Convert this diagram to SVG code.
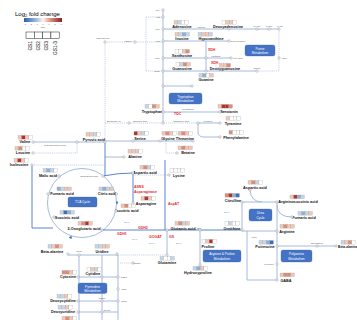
<svg xmlns="http://www.w3.org/2000/svg" xmlns:xlink="http://www.w3.org/1999/xlink" width="357" height="320" viewBox="0 0 357 320">
<style>
text{font-family:"Liberation Sans",Arial,sans-serif}
.n{font-size:3.8px;font-weight:bold;text-anchor:middle;fill:#111}
.s{font-size:2.4px;text-anchor:middle;fill:#555}
.e{font-size:3.5px;font-weight:bold;fill:#e3261f}
.nh{font-size:2.4px;fill:#4a78c8}
.bt{font-size:3.2px;text-anchor:middle;fill:#fff}
.ln{stroke:#a3bbe0;stroke-width:1;fill:none}
.bl{stroke:#5b84cf;stroke-width:1;fill:none}
.dl{stroke:#9fb3d6;stroke-width:0.6;stroke-dasharray:1.2 0.9;fill:none}
.nc{fill:#fff;stroke:#777;stroke-width:0.4}
.box{fill:#4472c4;stroke:#3a62ad;stroke-width:0.3}
.w{fill:#ffffff}.lb{fill:#c4d5ea}.mb{fill:#8eafd6}.db{fill:#3d6fb0}.lr{fill:#f2c6b6}.mr{fill:#dd8c75}.dr{fill:#b3302c}
</style>
<defs>
<rect id="c" width="3.6" height="3.6" stroke="#999" stroke-width="0.25"/>
<linearGradient id="grad" x1="0" x2="1" y1="0" y2="0">
<stop offset="0" stop-color="#2c5fa8"/><stop offset="0.35" stop-color="#a9c4e2"/><stop offset="0.5" stop-color="#f7f7f7"/><stop offset="0.65" stop-color="#e9a58d"/><stop offset="1" stop-color="#8e1b28"/>
</linearGradient>
<marker id="ar" viewBox="0 0 6 6" refX="3" refY="3" markerWidth="3" markerHeight="3" orient="auto"><path d="M0,0L6,3L0,6z" fill="#3d6fc2"/></marker>
</defs>

<g id="legend">
<text x="15" y="16" font-size="6">Log<tspan font-size="4" dy="1.3">2</tspan><tspan dy="-1.3"> fold change</tspan></text>
<rect x="24" y="18" width="38" height="4" fill="url(#grad)"/>
<g font-size="1.8" text-anchor="middle" fill="#333"><text x="25" y="25">-3</text><text x="31" y="25">-2</text><text x="37" y="25">-1</text><text x="43" y="25">0</text><text x="49" y="25">1</text><text x="55" y="25">2</text><text x="61" y="25">3</text><text x="43" y="28">Value</text></g>
<g fill="#fff" stroke="#222" stroke-width="0.5"><rect x="26" y="32" width="8.3" height="6.5"/><rect x="34.3" y="32" width="8.3" height="6.5"/><rect x="42.6" y="32" width="8.3" height="6.5"/><rect x="50.9" y="32" width="8.3" height="6.5"/></g>
<g font-size="4.8" text-anchor="end"><text transform="translate(31.8,41) rotate(-90)">GS1</text><text transform="translate(40.1,41) rotate(-90)">GS2</text><text transform="translate(48.4,41) rotate(-90)">GS3</text><text transform="translate(56.7,41) rotate(-90)">GS1-3</text></g>
</g>

<g id="connectors">
<path class="ln" d="M163,10V123M163,29H279M163,41H229M163,58H231M163,71H257M206,41V72"/>
<path class="dl" d="M146,17V71M146,17H163M146,71H163M105,42H163M279,29V71M257,71H279"/>
<path class="dl" d="M105,42V142"/>
<path class="ln" d="M163,86H192M163,112H220M198,123H220M198,123V132Q198,137 204,137H220"/>
<path class="dl" d="M105,123H198"/>
<path class="ln" d="M105,141H193M105,157H124"/>
<path class="dl" d="M166,141V153H177"/>
<path class="ln" d="M33,142H105"/>
<path class="dl" d="M33,153H77V142M32,165H105"/>
<path class="bl" d="M105,142V176M32,165V228H53"/>
<circle cx="82" cy="203" r="34.5" class="ln"/>
<path d="M117,201v2" class="bl" marker-end="url(#ar)"/>
<path d="M72,237.4h-2" class="bl" marker-end="url(#ar)"/>
<path class="bl" d="M103,176Q118,173 133,173M133,173V203"/>
<path class="dl" d="M133,175H169"/>
<path class="bl" d="M165,160V230M102,230H242"/>
<path class="ln" d="M167,230V255M200,230V265"/>
<path class="dl" d="M118,255H167M120,263H133"/>
<path class="ln" d="M242,202H277V231H242V202M250,190Q251,202 262,202M277,205Q277,217 292,217"/>
<path class="ln" d="M247,231V280H277M277,231V280M277,246H336"/>
<path class="ln" d="M68,255H118M79,255V320M102,255V320M118,255V320M78,277H118M78,301H118M78,312H118"/>
</g>

<g id="purine-cofactors">
<text class="s" x="157" y="11">ATP</text><circle class="nc" cx="163" cy="10" r="1.2"/>
<text class="s" x="158" y="18">ADP</text><circle class="nc" cx="163" cy="17" r="1.2"/>
<text class="s" x="157" y="30">AMP</text><circle class="nc" cx="163" cy="29" r="1.2"/>
<text class="s" x="158" y="42">IMP</text><circle class="nc" cx="163" cy="41" r="1.2"/>
<text class="s" x="157" y="59">XMP</text><circle class="nc" cx="163" cy="58" r="1.2"/>
<text class="s" x="157" y="72">GMP</text><circle class="nc" cx="163" cy="71" r="1.2"/>
<text class="s" x="128" y="42">PRPP</text><circle class="nc" cx="135" cy="42" r="1.2"/>
<text class="s" x="103" y="39">Ribulose-5P</text><circle class="nc" cx="105" cy="42" r="1.2"/>
</g>
<g id="adenosine"><g transform="translate(174,20.5)"><use href="#c" class="lr"/><use href="#c" x="3.6" class="lb"/><use href="#c" x="7.2" class="w"/><use href="#c" x="10.8" class="w"/></g><text class="n" x="182" y="27.6">Adenosine</text></g>
<text class="s" x="201" y="27.6">Adenine</text>
<g id="deoxyadenosine"><g transform="translate(222,20.5)"><use href="#c" class="w"/><use href="#c" x="3.6" class="lr"/><use href="#c" x="7.2" class="lr"/><use href="#c" x="10.8" class="w"/></g><text class="n" x="228" y="27.6">Deoxyadenosine</text><circle class="nc" cx="229" cy="29" r="1.2"/></g>
<g id="dnucs"><text class="s" x="257" y="27">dAMP</text><circle class="nc" cx="257" cy="29" r="1.2"/><text class="s" x="269" y="27">dADP</text><circle class="nc" cx="269" cy="29" r="1.2"/><text class="s" x="280" y="27">dATP</text><circle class="nc" cx="279" cy="29" r="1.2"/>
<circle class="nc" cx="279" cy="58" r="1.2"/><text class="s" x="285" y="59">DNA</text>
<text class="s" x="257" y="69">dGMP</text><circle class="nc" cx="257" cy="71" r="1.2"/></g>
<g id="inosine"><g transform="translate(175,32.5)"><use href="#c" class="lr"/><use href="#c" x="3.6" class="lb"/><use href="#c" x="7.2" class="mb"/><use href="#c" x="10.8" class="lb"/></g><text class="n" x="182" y="39.6">Inosine</text></g>
<g id="hypoxanthine"><g transform="translate(198,32.5)"><use href="#c" class="lb"/><use href="#c" x="3.6" class="lr"/><use href="#c" x="7.2" class="lr"/><use href="#c" x="10.8" class="lb"/></g><text class="n" x="211" y="39.6">Hypoxanthine</text></g>
<g id="deoxyinosine"><circle class="nc" cx="229" cy="41" r="1.2"/><text class="s" x="238" y="42">Deoxyinosine</text></g>
<text class="e" x="208" y="51">XDH</text>
<g id="xanthosine"><g transform="translate(175,49.5)"><use href="#c" class="w"/><use href="#c" x="3.6" class="w"/><use href="#c" x="7.2" class="lr"/><use href="#c" x="10.8" class="mr"/></g><text class="n" x="182" y="56.6">Xanthosine</text></g>
<circle class="nc" cx="206" cy="58" r="1.2"/><text class="s" x="216" y="57">Xanthine</text>
<circle class="nc" cx="231" cy="58" r="1.2"/><text class="s" x="238" y="59">Uric acid</text>
<text class="e" x="211" y="64">XDH</text>
<g id="guanosine"><g transform="translate(176,62.5)"><use href="#c" class="w"/><use href="#c" x="3.6" class="lb"/><use href="#c" x="7.2" class="mr"/><use href="#c" x="10.8" class="lr"/></g><text class="n" x="182" y="69.6">Guanosine</text></g>
<circle class="nc" cx="206" cy="71" r="1.2"/>
<g id="deoxyguanosine"><g transform="translate(216,63.5)"><use href="#c" class="w"/><use href="#c" x="3.6" class="lr"/><use href="#c" x="7.2" class="lr"/><use href="#c" x="10.8" class="mr"/></g><text class="n" x="225" y="70">Deoxyguanosine</text></g>
<g id="guanine"><g transform="translate(199,73.5)"><use href="#c" class="lb"/><use href="#c" x="3.6" class="mb"/><use href="#c" x="7.2" class="w"/><use href="#c" x="10.8" class="lr"/></g><text class="n" x="206" y="80.6">Guanine</text></g>
<g id="purine-box"><rect class="box" x="245" y="45" width="30" height="11" rx="2"/><text class="bt" x="260" y="49.8">Purine</text><text class="bt" x="260" y="54">Metabolism</text></g>

<circle class="nc" cx="163" cy="86" r="1.2"/><circle class="nc" cx="192" cy="86" r="1.2"/>
<g id="trp-box"><rect class="box" x="169" y="93" width="33" height="11" rx="2"/><text class="bt" x="185.5" y="97.8">Tryptophan</text><text class="bt" x="185.5" y="102">Metabolism</text></g>
<g id="tryptophan"><g transform="translate(145,104.5)"><use href="#c" class="lb"/><use href="#c" x="3.6" class="w"/><use href="#c" x="7.2" class="mr"/><use href="#c" x="10.8" class="lr"/></g><text class="n" x="152" y="113">Tryptophan</text><circle class="nc" cx="163" cy="112" r="1.2"/></g>
<text class="e" x="174" y="115">TDC</text>
<text class="s" x="188" y="110">Tryptamine</text>
<g id="serotonin"><g transform="translate(218,104.5)"><use href="#c" class="lr"/><use href="#c" x="3.6" class="dr"/><use href="#c" x="7.2" class="dr"/><use href="#c" x="10.8" class="mr"/></g><text class="n" x="229" y="113">Serotonin</text><circle class="nc" cx="220" cy="112" r="1.2"/></g>
<text class="s" x="114" y="122">Erythrose-4P</text><circle class="nc" cx="129" cy="123" r="1.2"/>
<text class="s" x="140" y="122">Shikimic acid</text><circle class="nc" cx="163" cy="123" r="1.2"/>
<text class="s" x="181" y="122">Chorismic acid</text><circle class="nc" cx="198" cy="123" r="1.2"/>
<text class="s" x="208" y="122">Tyrosine</text>
<g id="tyramine"><g transform="translate(226,116.5)"><use href="#c" class="lr"/><use href="#c" x="3.6" class="w"/><use href="#c" x="7.2" class="w"/><use href="#c" x="10.8" class="w"/></g><text class="n" x="233" y="125">Tyramine</text><circle class="nc" cx="220" cy="123" r="1.2"/></g>
<g id="phenylalanine"><g transform="translate(229,130.5)"><use href="#c" class="mr"/><use href="#c" x="3.6" class="w"/><use href="#c" x="7.2" class="w"/><use href="#c" x="10.8" class="w"/></g><text class="n" x="236" y="139">Phenylalanine</text><circle class="nc" cx="220" cy="137" r="1.2"/></g>

<g id="serine"><g transform="translate(134,131.5)"><use href="#c" class="dr"/><use href="#c" x="3.6" class="lr"/><use href="#c" x="7.2" class="lb"/><use href="#c" x="10.8" class="w"/></g><text class="n" x="140" y="139.5">Serine</text><circle class="nc" cx="133" cy="141" r="1.2"/></g>
<g id="glycine"><g transform="translate(162,131.5)"><use href="#c" class="lr"/><use href="#c" x="3.6" class="mr"/><use href="#c" x="7.2" class="lr"/><use href="#c" x="10.8" class="w"/></g><text class="n" x="168" y="139.5">Glycine</text><circle class="nc" cx="160" cy="141" r="1.2"/></g>
<g id="threonine"><g transform="translate(178,131.5)"><use href="#c" class="lr"/><use href="#c" x="3.6" class="mr"/><use href="#c" x="7.2" class="lr"/><use href="#c" x="10.8" class="w"/></g><text class="n" x="185" y="139.5">Threonine</text><circle class="nc" cx="193" cy="141" r="1.2"/></g>
<g id="betaine"><g transform="translate(178,146)"><use href="#c" class="lr"/><use href="#c" x="3.6" class="mr"/><use href="#c" x="7.2" class="lr"/><use href="#c" x="10.8" class="lr"/></g><text class="n" x="188" y="154">Betaine</text><circle class="nc" cx="177" cy="153" r="1.2"/></g>
<g id="alanine"><g transform="translate(128,149.5)"><use href="#c" class="lr"/><use href="#c" x="3.6" class="lr"/><use href="#c" x="7.2" class="lr"/><use href="#c" x="10.8" class="w"/></g><text class="n" x="135" y="158">Alanine</text><circle class="nc" cx="124" cy="157" r="1.2"/></g>

<g id="valine"><g transform="translate(18,135.5)"><use href="#c" class="lr"/><use href="#c" x="3.6" class="dr"/><use href="#c" x="7.2" class="lr"/><use href="#c" x="10.8" class="w"/></g><text class="n" x="25" y="143.2">Valine</text><circle class="nc" cx="33" cy="142" r="1.2"/></g>
<text class="s" x="55" y="145.5">2-Oxoisovaleric acid</text><circle class="nc" cx="77" cy="142" r="1.2"/>
<g id="leucine"><g transform="translate(15,146.5)"><use href="#c" class="lr"/><use href="#c" x="3.6" class="mr"/><use href="#c" x="7.2" class="w"/><use href="#c" x="10.8" class="w"/></g><text class="n" x="23" y="154.2">Leucine</text><circle class="nc" cx="33" cy="153" r="1.2"/></g>
<g id="isoleucine"><g transform="translate(14,158.5)"><use href="#c" class="lr"/><use href="#c" x="3.6" class="dr"/><use href="#c" x="7.2" class="lr"/><use href="#c" x="10.8" class="w"/></g><text class="n" x="19" y="166.2">Isoleucine</text><circle class="nc" cx="32" cy="165" r="1.2"/></g>
<g id="pyruvic"><g transform="translate(86,132.5)"><use href="#c" class="lr"/><use href="#c" x="3.6" class="lr"/><use href="#c" x="7.2" class="lb"/><use href="#c" x="10.8" class="w"/></g><text class="n" x="94" y="140.5">Pyruvic acid</text><circle class="nc" cx="105" cy="142" r="1.2"/></g>

<g id="tca-box"><rect class="box" x="68" y="197" width="29" height="10" rx="1.5"/><text class="bt" x="82.5" y="203.3">TCA Cycle</text></g>
<g id="malic"><g transform="translate(43,168.5)"><use href="#c" class="lb"/><use href="#c" x="3.6" class="mb"/><use href="#c" x="7.2" class="lb"/><use href="#c" x="10.8" class="w"/></g><text class="n" x="48" y="177">Malic acid</text><circle class="nc" cx="59" cy="176" r="1.2"/></g>
<text class="s" x="89" y="177">Oxaloacetic acid</text><circle class="nc" cx="103" cy="176" r="1.2"/>
<g id="fumaric"><g transform="translate(57,187)"><use href="#c" class="mb"/><use href="#c" x="3.6" class="lb"/><use href="#c" x="7.2" class="lr"/><use href="#c" x="10.8" class="lr"/></g><text class="n" x="62" y="195">Fumaric acid</text><circle class="nc" cx="48" cy="194" r="1.2"/></g>
<g id="citric"><g transform="translate(99,187)"><use href="#c" class="lb"/><use href="#c" x="3.6" class="mb"/><use href="#c" x="7.2" class="lb"/><use href="#c" x="10.8" class="lr"/></g><text class="n" x="107" y="195">Citric acid</text><circle class="nc" cx="116.5" cy="194" r="1.2"/></g>
<g id="isocitric"><g transform="translate(121,204)"><use href="#c" class="lr"/><use href="#c" x="3.6" class="mr"/><use href="#c" x="7.2" class="w"/><use href="#c" x="10.8" class="w"/></g><text class="n" x="127" y="212">Isocitric acid</text><circle class="nc" cx="116" cy="211" r="1.2"/></g>
<g id="succinic"><g transform="translate(60,210.5)"><use href="#c" class="lb"/><use href="#c" x="3.6" class="db"/><use href="#c" x="7.2" class="mb"/><use href="#c" x="10.8" class="lb"/></g><text class="n" x="67" y="218.5">Succinic acid</text><circle class="nc" cx="54" cy="217" r="1.2"/></g>
<g id="oxoglutaric"><g transform="translate(78,221.5)"><use href="#c" class="lr"/><use href="#c" x="3.6" class="mr"/><use href="#c" x="7.2" class="dr"/><use href="#c" x="10.8" class="lr"/></g><text class="n" x="84" y="229.5">2-Oxoglutaric acid</text><circle class="nc" cx="102" cy="230" r="1.2"/></g>

<g id="aspartic"><g transform="translate(140,165.5)"><use href="#c" class="lr"/><use href="#c" x="3.6" class="mr"/><use href="#c" x="7.2" class="lb"/><use href="#c" x="10.8" class="w"/></g><text class="n" x="145" y="174">Aspartic acid</text><circle class="nc" cx="133" cy="173" r="1.2"/></g>
<g id="lysine"><g transform="translate(170,168.5)"><use href="#c" class="w"/><use href="#c" x="3.6" class="w"/><use href="#c" x="7.2" class="w"/><use href="#c" x="10.8" class="w"/></g><text class="n" x="179" y="177">Lysine</text><circle class="nc" cx="169" cy="175" r="1.2"/></g>
<text class="e" x="134" y="187.5">ASNS</text><text class="e" x="134" y="193">Asparaginase</text>
<g id="asparagine"><g transform="translate(141,196.5)"><use href="#c" class="lr"/><use href="#c" x="3.6" class="dr"/><use href="#c" x="7.2" class="lr"/><use href="#c" x="10.8" class="w"/></g><text class="n" x="146" y="204.5">Asparagine</text><circle class="nc" cx="133" cy="203" r="1.2"/></g>
<text class="e" x="168" y="204.5">AspAT</text>
<g id="glutamic"><g transform="translate(175,221.5)"><use href="#c" class="lr"/><use href="#c" x="3.6" class="mr"/><use href="#c" x="7.2" class="lb"/><use href="#c" x="10.8" class="lr"/></g><text class="n" x="183" y="229.5">Glutamic acid</text><circle class="nc" cx="167" cy="230" r="1.2"/></g>
<text class="s" x="199" y="229">P5C</text><circle class="nc" cx="200" cy="230" r="1.2"/>
<text class="nh" x="124" y="223">NH4+</text>
<text class="e" x="138" y="228.5">GDH2</text>
<text class="e" x="117" y="235">GDH1</text>
<text class="nh" x="132" y="240">NH4+</text>
<text class="e" x="149" y="238">GOGAT</text>
<text class="e" x="169" y="238">GS</text>
<text class="nh" x="149" y="244">NH4+</text>
<text class="nh" x="176" y="244">NH4+</text>
<g id="glutamine"><circle class="nc" cx="167" cy="255" r="1.2"/><g transform="translate(160,256.5)"><use href="#c" class="lb"/><use href="#c" x="3.6" class="w"/><use href="#c" x="7.2" class="w"/><use href="#c" x="10.8" class="lb"/></g><text class="n" x="167" y="264">Glutamine</text></g>
<circle class="nc" cx="133" cy="263" r="1.2"/><text class="s" x="137" y="264">Citrate</text>

<g id="citrulline"><g transform="translate(225,193.5)"><use href="#c" class="mr"/><use href="#c" x="3.6" class="dr"/><use href="#c" x="7.2" class="mb"/><use href="#c" x="10.8" class="db"/></g><text class="n" x="233" y="201.5">Citrulline</text><circle class="nc" cx="242" cy="202" r="1.2"/></g>
<text class="nh" x="224" y="212.5">NH4+</text>
<g id="ornithine"><g transform="translate(225,221.5)"><use href="#c" class="w"/><use href="#c" x="3.6" class="lb"/><use href="#c" x="7.2" class="w"/><use href="#c" x="10.8" class="w"/></g><text class="n" x="232" y="229.5">Ornithine</text><circle class="nc" cx="242" cy="230" r="1.2"/></g>
<g id="aspartic2"><g transform="translate(248,180.5)"><use href="#c" class="lr"/><use href="#c" x="3.6" class="mr"/><use href="#c" x="7.2" class="lb"/><use href="#c" x="10.8" class="w"/></g><text class="n" x="255" y="188.5">Aspartic acid</text><circle class="nc" cx="250" cy="190" r="1.2"/></g>
<g id="argininosuccinic"><g transform="translate(290,195)"><use href="#c" class="lr"/><use href="#c" x="3.6" class="dr"/><use href="#c" x="7.2" class="mb"/><use href="#c" x="10.8" class="lb"/></g><text class="n" x="298" y="203.2">Argininosuccinic acid</text><circle class="nc" cx="277" cy="202" r="1.2"/></g>
<g id="fumaric2"><g transform="translate(298,211.5)"><use href="#c" class="lb"/><use href="#c" x="3.6" class="mb"/><use href="#c" x="7.2" class="lb"/><use href="#c" x="10.8" class="lr"/></g><text class="n" x="304" y="219">Fumaric acid</text><circle class="nc" cx="292" cy="217" r="1.2"/></g>
<g id="arginine"><g transform="translate(280,224.5)"><use href="#c" class="lr"/><use href="#c" x="3.6" class="mr"/><use href="#c" x="7.2" class="lr"/><use href="#c" x="10.8" class="lr"/></g><text class="n" x="287" y="232.5">Arginine</text><circle class="nc" cx="277" cy="231" r="1.2"/></g>
<g id="urea-box"><rect class="box" x="249" y="209" width="23" height="12" rx="2"/><text class="bt" x="260.5" y="214.3">Urea</text><text class="bt" x="260.5" y="218.5">Cycle</text></g>
<text class="s" x="254" y="238">Urea</text>
<g id="argpro-box"><rect class="box" x="203" y="250" width="38" height="12" rx="2"/><text class="bt" x="222" y="255">Arginine &amp; Proline</text><text class="bt" x="222" y="259.5">Metabolism</text></g>
<g id="proline"><g transform="translate(202,239.5)"><use href="#c" class="w"/><use href="#c" x="3.6" class="lr"/><use href="#c" x="7.2" class="dr"/><use href="#c" x="10.8" class="w"/></g><text class="n" x="208" y="247.5">Proline</text></g>
<g id="hydroxyproline"><circle class="nc" cx="200" cy="265" r="1.2"/><g transform="translate(193,266.5)"><use href="#c" class="lb"/><use href="#c" x="3.6" class="mb"/><use href="#c" x="7.2" class="lr"/><use href="#c" x="10.8" class="w"/></g><text class="n" x="198" y="274">Hydroxyproline</text></g>
<g id="putrescine"><g transform="translate(259,240.5)"><use href="#c" class="lb"/><use href="#c" x="3.6" class="lb"/><use href="#c" x="7.2" class="mb"/><use href="#c" x="10.8" class="db"/></g><text class="n" x="265" y="248">Putrescine</text><circle class="nc" cx="277" cy="246" r="1.2"/></g>
<text class="s" x="317" y="244">Spermidine</text><circle class="nc" cx="317" cy="246" r="1.2"/>
<g id="betaalanine2"><g transform="translate(341,240.5)"><use href="#c" class="lb"/><use href="#c" x="3.6" class="lr"/><use href="#c" x="7.2" class="mr"/><use href="#c" x="10.8" class="w"/></g><text class="n" x="338" y="248" style="text-anchor:start;font-size:3.3px">Beta-alanine</text><circle class="nc" cx="336" cy="246" r="1.2"/></g>
<g id="polyamine-box"><rect class="box" x="281" y="250" width="31" height="12" rx="2"/><text class="bt" x="296.5" y="255">Polyamine</text><text class="bt" x="296.5" y="259.5">Metabolism</text></g>
<text class="s" x="269" y="265">Pyrroline</text><circle class="nc" cx="277" cy="264" r="1.2"/>
<g id="gaba"><g transform="translate(280,273)"><use href="#c" class="lr"/><use href="#c" x="3.6" class="mr"/><use href="#c" x="7.2" class="mr"/><use href="#c" x="10.8" class="lr"/></g><text class="n" x="286" y="281.5">GABA</text><circle class="nc" cx="277" cy="280" r="1.2"/></g>

<g id="betaalanine1"><g transform="translate(48,244.5)"><use href="#c" class="lb"/><use href="#c" x="3.6" class="lr"/><use href="#c" x="7.2" class="mr"/><use href="#c" x="10.8" class="lr"/></g><text class="n" x="52" y="252.5">Beta-alanine</text><circle class="nc" cx="68" cy="254" r="1.2"/></g>
<text class="s" x="79" y="252">dUrd</text><circle class="nc" cx="79" cy="255" r="1.2"/>
<g id="uridine"><g transform="translate(95,244.5)"><use href="#c" class="lb"/><use href="#c" x="3.6" class="lb"/><use href="#c" x="7.2" class="lr"/><use href="#c" x="10.8" class="lr"/></g><text class="n" x="102" y="252.5">Uridine</text><circle class="nc" cx="117" cy="254" r="1.2"/></g>
<g id="cytidine"><g transform="translate(87,267.5)"><use href="#c" class="w"/><use href="#c" x="3.6" class="lr"/><use href="#c" x="7.2" class="lb"/><use href="#c" x="10.8" class="w"/></g><text class="n" x="93" y="275">Cytidine</text></g>
<g id="cytosine"><g transform="translate(62,270.5)"><use href="#c" class="mr"/><use href="#c" x="3.6" class="mr"/><use href="#c" x="7.2" class="lr"/><use href="#c" x="10.8" class="w"/></g><text class="n" x="68" y="278.2">Cytosine</text><circle class="nc" cx="78" cy="277" r="1.2"/><circle class="nc" cx="102" cy="277" r="1.2"/></g>
<g id="pyr-box"><rect class="box" x="78" y="283" width="29" height="10.5" rx="2"/><text class="bt" x="92.5" y="287.5">Pyrimidine</text><text class="bt" x="92.5" y="291.7">Metabolism</text></g>
<g id="deoxycytidine"><g transform="translate(57,294.5)"><use href="#c" class="lb"/><use href="#c" x="3.6" class="lb"/><use href="#c" x="7.2" class="lr"/><use href="#c" x="10.8" class="w"/></g><text class="n" x="63" y="302.2">Deoxycytidine</text><circle class="nc" cx="78" cy="301" r="1.2"/></g>
<text class="s" x="102" y="299">dCMP</text><circle class="nc" cx="102" cy="301" r="1.2"/>
<g id="deoxyuridine"><g transform="translate(58,305.5)"><use href="#c" class="lb"/><use href="#c" x="3.6" class="lb"/><use href="#c" x="7.2" class="lr"/><use href="#c" x="10.8" class="w"/></g><text class="n" x="63" y="313.2">Deoxyuridine</text><circle class="nc" cx="78" cy="312" r="1.2"/></g>
<text class="s" x="107" y="311">dUMP</text><circle class="nc" cx="102" cy="312" r="1.2"/>
<g transform="translate(62,316.5)"><use href="#c" class="lr"/><use href="#c" x="3.6" class="mr"/><use href="#c" x="7.2" class="lr"/><use href="#c" x="10.8" class="w"/></g>
<g id="cdp"><circle class="nc" cx="118" cy="277" r="1.2"/><text class="s" x="124" y="278">dCDP</text><circle class="nc" cx="118" cy="289" r="1.2"/><text class="s" x="124" y="290">CDP</text><circle class="nc" cx="118" cy="301" r="1.2"/><text class="s" x="124" y="302">dCTP</text></g>
</svg>
